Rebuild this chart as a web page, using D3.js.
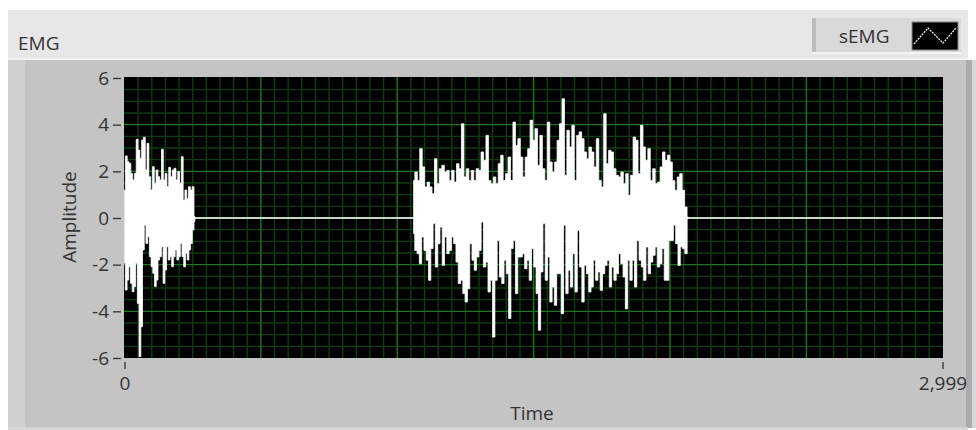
<!DOCTYPE html>
<html><head><meta charset="utf-8">
<script src="https://cdn.jsdelivr.net/npm/d3@7"></script>
<style>
html,body{margin:0;padding:0;background:#fff;}
svg{display:block;}
text{font-family:"Open Sans","Noto Sans",sans-serif;fill:#333;}
</style></head>
<body>
<svg id="c" width="976" height="430"></svg>
<script>
// ---------- data ----------
const chartTitle = "EMG";
const seriesName = "sEMG";
const xLabel = "Time";
const yLabel = "Amplitude";
const xDomain = [0, 2999];
const yDomain = [-6, 6];
const xTicks = [0, 2999];
const yTicks = [-6, -4, -2, 0, 2, 4, 6];
const xMajorStep = 500, xMinorStep = 50;
const yMajorStep = 2, yMinorStep = 0.5;

// burst 1 (samples 0..258): positive and negative peaks
const burst1Span = [0, 258];
const burst1Hi = [1.2,2.66,2.41,2.34,1.91,1.63,1.91,3.37,2.91,2.56,3.34,3.46,2.06,3.2,1.77,1.2,2.2,1.49,2.06,1.77,
  1.63,2.94,1.63,1.91,1.34,2.17,1.77,2.06,2.13,1.63,1.99,1.49,2.63,0.77,1.2,0.84,1.34,1.2,1.34,0.06];
const burst1Lo = [-1.94,-3.09,-2.66,-2.09,-2.8,-3.16,-2.94,-1.94,-3.66,-5.94,-4.66,-1.37,-0.3,-1.09,-0.8,-1.66,-2.09,-2.37,-2.94,-2.66,
  -1.8,-1.66,-1.23,-2.8,-2.23,-1.23,-1.8,-1.66,-2.09,-1.66,-1.37,-1.8,-1.66,-1.09,-1.66,-2.09,-1.51,-1.8,-1.37,-1.09,-0.51,-0.16];

// burst 2 (samples 1060..2067)
const burst2Span = [1060, 2067];
const burst2Hi = [1.61,1.97,1.61,2.97,2.19,1.33,1.54,1.33,1.04,2.54,1.47,2.11,2.26,1.97,2.04,1.61,2.04,1.54,2.33,2.11,
  4.04,1.76,2.11,1.61,2.04,1.61,2.11,2.04,2.83,2.47,3.54,1.61,1.47,1.76,1.47,2.33,2.69,1.61,1.9,2.61,
  1.61,4.11,3.11,3.4,2.61,1.76,2.61,2.97,4.19,3.33,3.83,2.26,3.54,2.11,1.61,4.11,2.4,1.97,2.4,3.33,
  4.04,5.11,1.83,3.76,3.04,3.97,1.61,3.54,3.69,3.4,2.83,2.54,3.04,2.83,2.19,3.4,1.61,1.33,4.47,2.33,
  2.9,2.83,2.11,1.83,1.76,1.97,1.47,1.9,0.97,1.83,3.47,3.33,1.9,3.97,3.04,2.47,2.97,1.61,2.11,1.47,
  1.54,2.19,2.83,2.47,2.69,2.4,1.61,1.19,1.76,1.9,1.19,0.47,0.04];
const burst2Lo = [-0.67,-1.39,-1.53,-1.96,-0.81,-1.39,-1.81,-2.67,-1.31,-0.24,-2.1,-1.1,-0.39,-2.03,-0.81,-1.53,-1.39,-0.81,-1.1,-1.89,
  -2.81,-2.67,-3.24,-3.6,-3.03,-1.1,-1.81,-2.24,-1.67,-1.39,-0.17,-2.1,-1.89,-3.17,-2.67,-5.1,-2.67,-0.96,-2.53,-2.81,
  -1.81,-2.39,-4.31,-1.31,-0.96,-3.24,-1.67,-1.67,-1.53,-2.17,-1.81,-2.67,-1.31,-2.1,-3.24,-4.81,-2.31,-0.24,-2.67,-1.67,
  -3.6,-2.96,-3.74,-2.39,-2.39,-4.1,-0.31,-3.24,-2.24,-2.96,-1.53,-3.17,-0.53,-2.1,-3.6,-2.03,-2.39,-3.17,-2.96,-1.81,
  -2.67,-2.31,-3.1,-2.39,-2.03,-1.81,-2.96,-2.1,-2.67,-2.39,-1.53,-1.96,-2.53,-3.89,-1.81,-2.67,-1.81,-2.96,-0.96,-1.81,
  -2.1,-2.67,-1.24,-2.39,-1.89,-1.6,-1.24,-2.1,-1.96,-1.31,-2.67,-2.67,-0.96,-0.96,-0.31,-1.1,-2.03,-1.24,-1.31,-1.53,-0.03];

// ---------- layout ----------
const svg = d3.select("#c");
const W = 976, H = 430;
const plot = {left: 124, right: 943, top: 77, bottom: 358};

// panel background
svg.append("rect").attr("x",0).attr("y",0).attr("width",W).attr("height",H).attr("fill","#ffffff");
svg.append("rect").attr("x",8).attr("y",10).attr("width",960).attr("height",52).attr("fill","#e7e7e7");
svg.append("rect").attr("x",8).attr("y",60).attr("width",960).attr("height",368).attr("fill","#c4c4c4");
svg.append("rect").attr("x",8).attr("y",60).attr("width",17).attr("height",368).attr("fill","#d0d0d0");
svg.append("rect").attr("x",8).attr("y",58).attr("width",960).attr("height",2).attr("fill","#f2f2f2");
svg.append("rect").attr("x",966).attr("y",60).attr("width",6).attr("height",368).attr("fill","#ababab");
svg.append("rect").attr("x",972).attr("y",60).attr("width",4).attr("height",368).attr("fill","#d8d8d8");
svg.append("rect").attr("x",8).attr("y",427).attr("width",960).attr("height",3).attr("fill","#d6d6d6");

// title
svg.append("text").attr("x",18).attr("y",50).attr("font-size",19).text(chartTitle);

// legend
const lg = svg.append("g");
lg.append("rect").attr("x",812).attr("y",18).attr("width",149).attr("height",35).attr("fill","#d9d9d9");
lg.append("rect").attr("x",812).attr("y",18).attr("width",4).attr("height",35).attr("fill","#bdbdbd");
lg.append("rect").attr("x",812).attr("y",52).attr("width",149).attr("height",2).attr("fill","#f4f4f4");
lg.append("text").attr("x",839).attr("y",43).attr("font-size",19).text(seriesName);
lg.append("rect").attr("x",912).attr("y",22).attr("width",46).attr("height",28).attr("fill","#000").attr("stroke","#8a8a8a").attr("stroke-width",1);
lg.append("polyline").attr("points","914,44 928,28 943,43 956,28")
  .attr("fill","none").attr("stroke","#e8e8e8").attr("stroke-width",1.3).attr("stroke-dasharray","2,1");

// scales
const x = d3.scaleLinear().domain(xDomain).range([plot.left + 0.5, plot.right - 0.5]);
const y = d3.scaleLinear().domain(yDomain).range([plot.bottom, plot.top + 1]);

// plot area
svg.append("rect").attr("x",plot.left).attr("y",plot.top).attr("width",plot.right-plot.left)
  .attr("height",plot.bottom-plot.top).attr("fill","#000");

const grid = svg.append("g");
const xMinor = d3.range(xDomain[0], xDomain[1]+1, xMinorStep).filter(v => v % xMajorStep !== 0);
const xMajor = d3.range(xDomain[0]+xMajorStep, xDomain[1], xMajorStep);
const yMinor = d3.range(yDomain[0], yDomain[1]+0.001, yMinorStep).filter(v => Math.abs(v % yMajorStep) > 1e-6);
const yMajor = d3.range(yDomain[0]+yMajorStep, yDomain[1], yMajorStep);
const minorCol = "#0c3d10", majorCol = "#1f7425";
grid.selectAll(".vmi").data(xMinor).join("line").attr("x1",d=>x(d)).attr("x2",d=>x(d))
  .attr("y1",plot.top).attr("y2",plot.bottom).attr("stroke",minorCol).attr("stroke-width",1.4);
grid.selectAll(".hmi").data(yMinor).join("line").attr("y1",d=>y(d)).attr("y2",d=>y(d))
  .attr("x1",plot.left).attr("x2",plot.right).attr("stroke",minorCol).attr("stroke-width",1.4);
grid.selectAll(".vma").data(xMajor).join("line").attr("x1",d=>x(d)).attr("x2",d=>x(d))
  .attr("y1",plot.top).attr("y2",plot.bottom).attr("stroke",majorCol).attr("stroke-width",1.4);
grid.selectAll(".hma").data(yMajor).join("line").attr("y1",d=>y(d)).attr("y2",d=>y(d))
  .attr("x1",plot.left).attr("x2",plot.right).attr("stroke",majorCol).attr("stroke-width",1.4);

// signal: each burst is drawn as the band between its positive and negative peaks
function peakPoints(span, vals){
  return vals.map((v,k)=>[span[0] + k*(span[1]-span[0])/(vals.length-1), v]);
}
const stepLine = d3.line().curve(d3.curveStep).x(d=>x(d[0])).y(d=>y(d[1]));
function burstPath(span, hi, lo){
  const top = stepLine(peakPoints(span, hi));
  const bot = stepLine(peakPoints(span, lo).reverse());
  return top + "L" + bot.slice(1) + "Z";
}
const sig = svg.append("g");
sig.append("path").attr("d", burstPath(burst1Span, burst1Hi, burst1Lo))
  .attr("fill","#fff").attr("stroke","#fff").attr("stroke-width",0.8);
sig.append("path").attr("d", burstPath(burst2Span, burst2Hi, burst2Lo))
  .attr("fill","#fff").attr("stroke","#fff").attr("stroke-width",0.8);
const baseline = [[burst1Span[1], 0], [burst2Span[0], 0], [burst2Span[1], 0], [xDomain[1], 0]];
const lineGen = d3.line().x(d=>x(d[0])).y(d=>y(d[1]));
sig.append("path")
  .attr("d", lineGen([baseline[0], baseline[1]]) + lineGen([baseline[2], baseline[3]]))
  .attr("fill","none").attr("stroke","#fff").attr("stroke-width",1.4);

// axes
const yAxis = svg.append("g").attr("transform",`translate(${plot.left-3},0)`)
  .call(d3.axisLeft(y).tickValues(yTicks).tickSize(8).tickPadding(4).tickFormat(d => String(d)));
const xAxis = svg.append("g").attr("transform",`translate(0,${plot.bottom+4})`)
  .call(d3.axisBottom(x).tickValues(xTicks).tickSize(7).tickPadding(8).tickFormat(d => d.toLocaleString("en-US")));
[yAxis, xAxis].forEach(a=>{
  a.select(".domain").remove();
  a.selectAll(".tick line").attr("stroke","#333").attr("stroke-width",1.3);
  a.selectAll(".tick text").attr("font-size",19).attr("fill","#333")
   .attr("font-family",'"Open Sans","Noto Sans",sans-serif');
});

svg.append("text").attr("x",532).attr("y",420).attr("text-anchor","middle").attr("font-size",19).text(xLabel);
svg.append("text").attr("transform","translate(76,217) rotate(-90)").attr("text-anchor","middle")
  .attr("font-size",19).text(yLabel);
</script>
</body></html>
